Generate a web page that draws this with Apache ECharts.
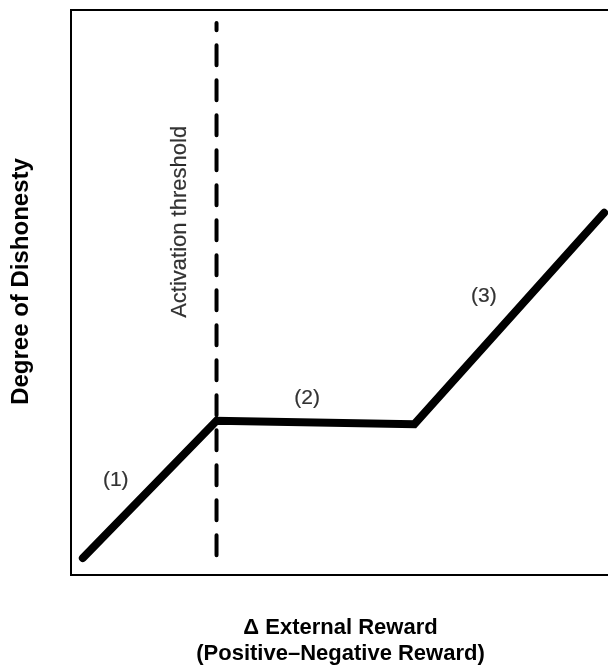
<!DOCTYPE html>
<html>
<head>
<meta charset="utf-8">
<script src="https://cdn.jsdelivr.net/npm/echarts@6/dist/echarts.min.js"></script>
<style>html,body{margin:0;padding:0;background:#fff}#c{width:608px;height:665px}</style>
</head>
<body>
<div id="c"></div>
<script>
// Data (conceptual units, 0–100 on both axes)
var curveX = [2.2, 27.0, 63.7, 98.9];
var curveY = [3.0, 27.3, 26.7, 64.1];
var thresholdX = 27.0;
var thresholdY = [3.5, 97.7];
var segmentLabels = ['(1)', '(2)', '(3)'];
var segmentLabelX = [8.3, 43.8, 76.6];
var segmentLabelY = [16.8, 31.3, 49.3];
var thresholdLabel = 'Activation threshold';
var thresholdLabelPos = [20.3, 62.5];
var xTitle = '\u0394 External Reward\n(Positive\u2013Negative Reward)';
var yTitle = 'Degree of Dishonesty';

var curve = curveX.map(function (x, i) { return [x, curveY[i]]; });
var thresh = thresholdY.map(function (y) { return [thresholdX, y]; });
var segLabels = segmentLabels.map(function (t, i) { return { value: [segmentLabelX[i], segmentLabelY[i]], name: t }; });

var font = 'Liberation Sans, Arial, Helvetica, sans-serif';
var chart = echarts.init(document.getElementById('c'), null, { renderer: 'canvas' });
chart.setOption({
  animation: false,
  grid: { left: 71, top: 10, right: -2, bottom: 90, outerBoundsMode: 'none', containLabel: false,
    show: true, borderColor: '#000', borderWidth: 2, backgroundColor: 'transparent' },
  xAxis: {
    type: 'value', min: 0, max: 100,
    axisLine: { show: true, lineStyle: { color: '#000', width: 2 } },
    axisTick: { show: false }, axisLabel: { show: false }, splitLine: { show: false },
    name: xTitle, nameLocation: 'middle', nameGap: 40,
    nameTextStyle: { fontFamily: font, fontSize: 22, fontWeight: 'bold', color: '#000', lineHeight: 26, verticalAlign: 'top' }
  },
  yAxis: {
    type: 'value', min: 0, max: 100,
    axisLine: { show: true, lineStyle: { color: '#000', width: 2 } },
    axisTick: { show: false }, axisLabel: { show: false }, splitLine: { show: false },
    name: yTitle, nameLocation: 'middle', nameGap: 38, nameRotate: 90,
    nameTextStyle: { fontFamily: font, fontSize: 24, fontWeight: 'bold', color: '#000', padding: [0, 0, 0, 22] }
  },
  series: [
    {
      type: 'line', data: thresh, symbol: 'none', silent: true,
      lineStyle: { color: '#000', width: 4, type: [20, 15], cap: 'round' }
    },
    {
      type: 'line', data: curve, symbol: 'none', silent: true,
      lineStyle: { color: '#000', width: 8, cap: 'round', join: 'miter' }
    },
    {
      type: 'scatter', data: segLabels, symbolSize: 0, silent: true,
      label: { show: true, position: 'inside', formatter: function (p) { return p.name; },
        fontFamily: font, fontSize: 21, color: '#000', textBorderColor: '#000', textBorderWidth: 0.2 }
    },
    {
      type: 'scatter', data: [{ value: thresholdLabelPos, name: thresholdLabel }], symbolSize: 0, silent: true,
      label: { show: true, position: 'inside', rotate: 90, formatter: function (p) { return p.name; },
        fontFamily: font, fontSize: 22, color: '#000', textBorderColor: '#000', textBorderWidth: 0.2 }
    }
  ]
});
</script>
</body>
</html>
